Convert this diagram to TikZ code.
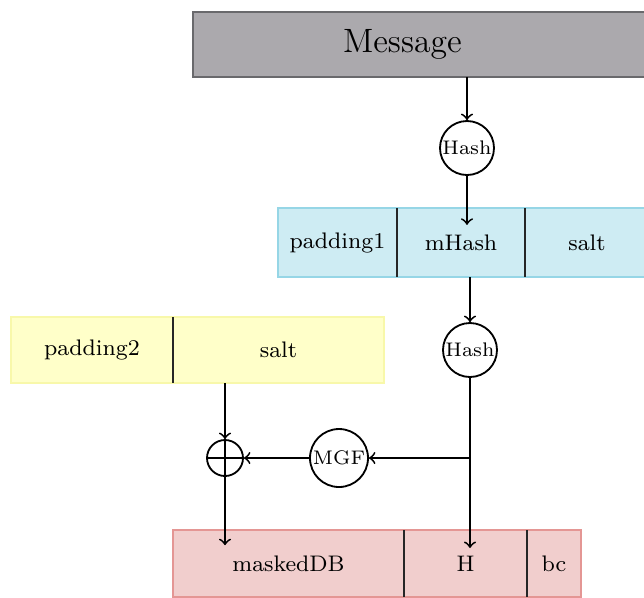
\documentclass[tikz,border=0pt]{standalone}
\usepackage{xcolor}
\usepackage{tikz}
\usetikzlibrary{arrows.meta, positioning, calc}
\definecolor{msgfill}{RGB}{171, 169, 173}
\definecolor{msgline}{RGB}{105, 105, 108}
\definecolor{cyfill}{RGB}{206, 236, 243}
\definecolor{cyline}{RGB}{150, 214, 230}
\definecolor{ylfill}{RGB}{255, 255, 201}
\definecolor{ylline}{RGB}{248, 248, 170}
\definecolor{pkfill}{RGB}{241, 206, 205}
\definecolor{pkline}{RGB}{228, 150, 148}

\begin{document}
\begin{tikzpicture}[
    >=to,
    field/.style={rectangle, draw=#1line, fill=#1fill, line width=0.6pt,
      inner sep=0pt, outer sep=0pt, minimum height=0.85cm, font=\footnotesize},
    fn/.style={circle, draw, line width=0.65pt, inner sep=0pt, fill=white,
      minimum size=#1, font=\scriptsize},
    divider/.style={line width=0.8pt, black!85},
    arr/.style={->, line width=0.65pt}
  ]
  \useasboundingbox (0,0) rectangle (8.05,-7.4625);

  % message
  \node[field=msg, minimum width=5.7cm, minimum height=0.8125cm,
    line width=0.8pt, anchor=west] (msg) at (2.4125,-0.556) {};
  \node[font=\large, inner sep=0pt] (msgtext) at (5.03,-0.556) {Message};
  \node[fn=0.675cm] (hash1) at (5.8375,-1.85) {Hash};

  % M' = padding1 | mHash | salt
  \node[field=cy, minimum width=1.4875cm, minimum height=0.8625cm, anchor=west]
    (pad1) at (3.475,-3.03125) {padding1};
  \node[field=cy, minimum width=1.6cm, minimum height=0.8625cm, right=0pt of pad1] (mhash) {mHash};
  \node[field=cy, minimum width=1.55cm, minimum height=0.8625cm, right=0pt of mhash,
    text width=1.4cm, align=center] (salt1) {salt};
  \draw[divider] (pad1.north east) -- (pad1.south east);
  \draw[divider] (mhash.north east) -- (mhash.south east);

  \node[fn=0.675cm] (hash2) at (5.875,-4.375) {Hash};

  % DB = padding2 | salt
  \node[field=yl, minimum width=2.025cm, minimum height=0.825cm, anchor=west]
    (pad2) at (0.1375,-4.375) {padding2};
  \node[field=yl, minimum width=2.6375cm, minimum height=0.825cm, right=0pt of pad2] (salt2) {salt};
  \draw[divider] (pad2.north east) -- (pad2.south east);

  \node[fn=0.725cm] (mgf) at (4.2375,-5.725) {MGF};
  \node[fn=0.45cm] (xor) at (2.8125,-5.725) {};
  \draw[line width=0.65pt] (xor.west) -- (xor.east) (xor.north) -- (xor.south);
  \coordinate (split) at (hash2 |- mgf);

  % EM = maskedDB | H | bc
  \node[field=pk, minimum width=2.8875cm, minimum height=0.8375cm, anchor=west]
    (mdb) at (2.1625,-7.04375) {maskedDB};
  \node[field=pk, minimum width=1.5375cm, minimum height=0.8375cm, right=0pt of mdb] (hh) {H};
  \node[field=pk, minimum width=0.675cm, minimum height=0.8375cm, right=0pt of hh] (bc) {bc};
  \draw[divider] (mdb.north east) -- (mdb.south east);
  \draw[divider] (hh.north east) -- (hh.south east);

  \draw[arr] (hash1 |- msg.south) -- (hash1.north);
  \draw[arr] (hash1.south) -- ($(hash1 |- mhash.north)+(0,-0.21)$);
  \draw[arr] (hash2 |- mhash.south) -- (hash2.north);
  \draw[arr] (hash2.south) -- ($(hash2 |- hh.north)+(0,-0.225)$);
  \draw[arr] (split) -- (mgf.east);
  \draw[arr] (mgf.west) -- (xor.east);
  \draw[arr] (xor |- salt2.south) -- (xor.north);
  \draw[arr] (xor.south) -- ($(xor |- mdb.north)+(0,-0.19)$);
\end{tikzpicture}
\end{document}
